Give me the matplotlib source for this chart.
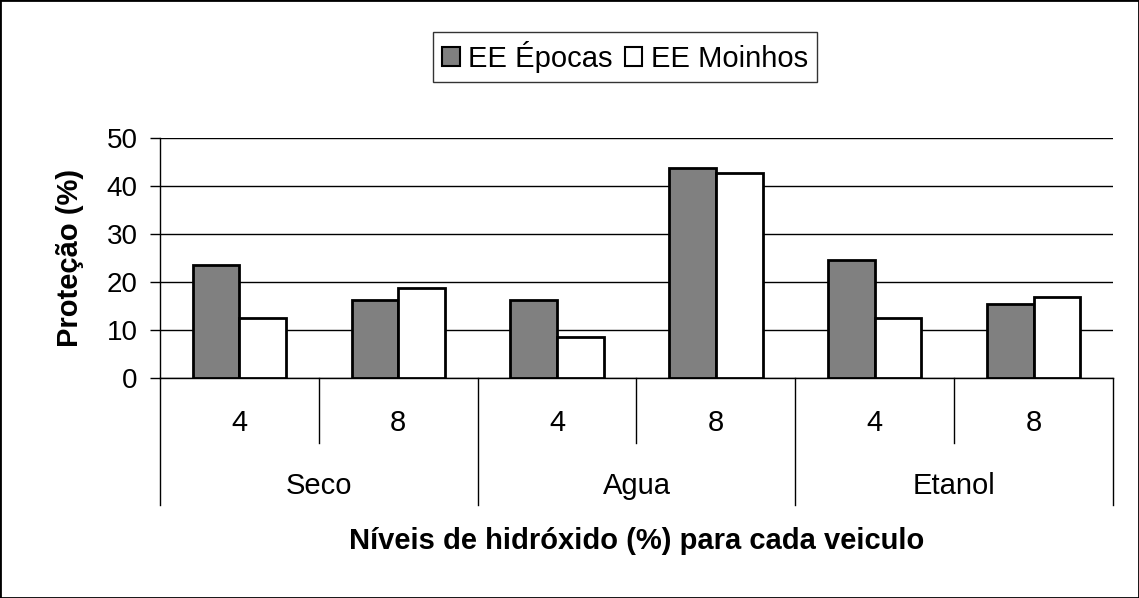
import matplotlib.pyplot as plt
import matplotlib.transforms as mtransforms
from matplotlib.patches import Patch, Rectangle
import numpy as np

plt.rcParams['font.family'] = ['Liberation Sans', 'DejaVu Sans']

# dados
veiculos = ['Seco', 'Agua', 'Etanol']
niveis = ['4', '8', '4', '8', '4', '8']
ee_epocas = [23.6, 16.3, 16.3, 43.7, 24.5, 15.4]
ee_moinhos = [12.4, 18.7, 8.6, 42.8, 12.4, 16.9]
series = ['EE Épocas', 'EE Moinhos']

W, H = 1139, 598
fig = plt.figure(figsize=(W / 100, H / 100), dpi=100)
ax = fig.add_axes([160 / W, (H - 378) / H, (1113 - 160) / W, 240 / H])

x = np.arange(len(niveis))
bw = 0.294
ax.bar(x - bw / 2, ee_epocas, bw, color='#808080', edgecolor='black', linewidth=2, zorder=3)
ax.bar(x + bw / 2, ee_moinhos, bw, color='white', edgecolor='black', linewidth=2, zorder=3)

ax.set_xlim(-0.5, len(niveis) - 0.5)
ax.set_ylim(0, 50)
ax.set_yticks(range(0, 51, 10))
ax.tick_params(axis='y', labelsize=20, length=7, width=1, direction='out', pad=9)
ax.set_xticks([])
ax.yaxis.grid(True, color='black', linewidth=1, zorder=0)
for s in ['top', 'right']:
    ax.spines[s].set_visible(False)
ax.spines['left'].set_linewidth(1)
ax.spines['bottom'].set_linewidth(1)

# eixo de categorias em dois níveis
trans = mtransforms.blended_transform_factory(ax.transData, fig.transFigure)
y0 = (H - 378) / H
y_nivel = (H - 443) / H
y_grupo = (H - 505) / H
for i in range(len(niveis) + 1):
    xs = i - 0.5
    ybot = y_grupo if i % 2 == 0 else y_nivel
    ax.plot([xs, xs], [y0, ybot], color='black', linewidth=1, transform=trans, clip_on=False)
for i, n in enumerate(niveis):
    ax.text(i, (H - 423) / H, n, transform=trans, ha='center', va='center', fontsize=21)
for j, v in enumerate(veiculos):
    ax.text(2 * j + 0.5, (H - 486) / H, v, transform=trans, ha='center', va='center', fontsize=21)

fig.text((160 + 1113) / 2 / W, (H - 541) / H, 'Níveis de hidróxido (%) para cada veiculo',
         ha='center', va='center', fontsize=21, fontweight='bold')
fig.text(70 / W, (H - 258) / H, 'Proteção (%)', rotation=90, ha='center', va='center',
         fontsize=21, fontweight='bold')

handles = [Patch(facecolor='#808080', edgecolor='black', linewidth=1.5),
           Patch(facecolor='white', edgecolor='black', linewidth=1.5)]
leg = fig.legend(handles, series, loc='center', bbox_to_anchor=(625 / W, (H - 57) / H),
                 ncol=2, fontsize=21, frameon=True, fancybox=False, edgecolor='black',
                 handlelength=0.6, handleheight=0.6, handletextpad=0.3, columnspacing=0.4,
                 borderpad=0.3, borderaxespad=0)
leg.get_frame().set_linewidth(1)

fig.patches.append(Rectangle((0, 0), 1, 1, transform=fig.transFigure, fill=False,
                             edgecolor='black', linewidth=2))

fig.savefig('out.png', dpi=100)
